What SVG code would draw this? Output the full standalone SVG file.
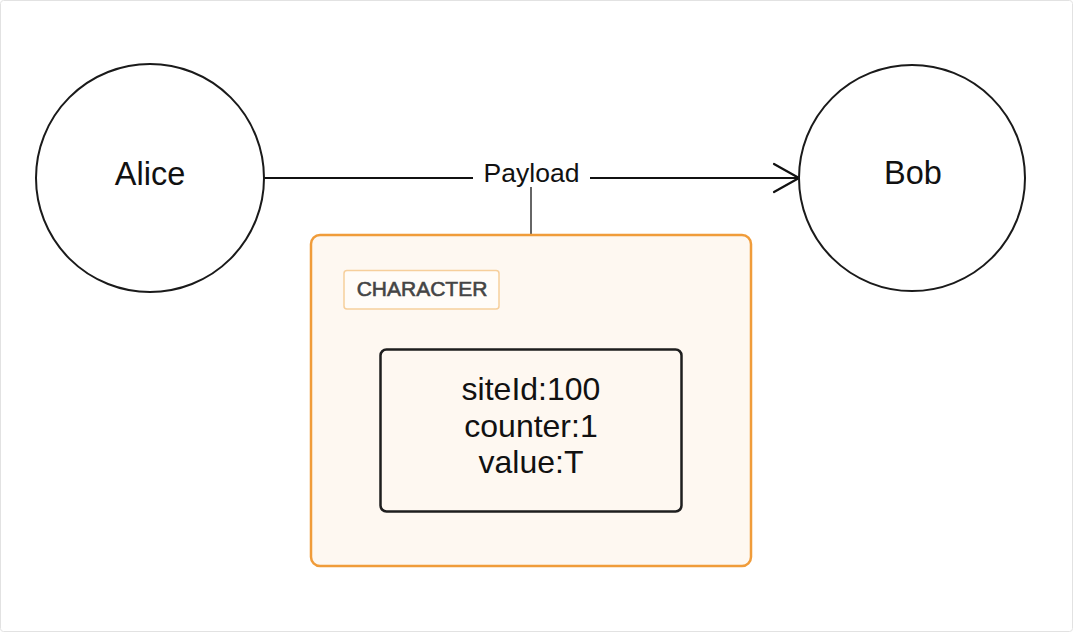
<svg xmlns="http://www.w3.org/2000/svg" width="1073" height="633" viewBox="0 0 1073 633">
<defs>
<style>
.node{fill:#ffffff;stroke:#1a1a1a;stroke-width:2}
.lbl{font-family:"Liberation Sans",Arial,sans-serif;fill:#111111;text-anchor:middle}
.edge{fill:none;stroke:#111111;stroke-width:2}
</style>
<marker id="arrow" viewBox="0 0 30 32" refX="27" refY="16" markerWidth="30" markerHeight="32" markerUnits="userSpaceOnUse" orient="auto">
<path d="M2,2 L27,16 L2,30" fill="none" stroke="#111111" stroke-width="2.2" stroke-linecap="round" stroke-linejoin="round"/>
</marker>
</defs>
<rect x="0.5" y="0.5" width="1072" height="631" rx="3" fill="#ffffff" stroke="#e2e2e2" stroke-width="1"/>
<g id="connectors">
<path class="edge" d="M264,178 L799,178" marker-end="url(#arrow)"/>
<rect x="473" y="160" width="117" height="34" fill="#ffffff"/>
<text class="lbl" x="531.5" y="182" font-size="26.5">Payload</text>
<path d="M531,187 L531,234" fill="none" stroke="#333333" stroke-width="1.5"/>
</g>
<g id="alice">
<circle class="node" cx="150" cy="178" r="114"/>
<text class="lbl" x="150" y="185" font-size="32.5">Alice</text>
</g>
<g id="bob">
<circle class="node" cx="912" cy="178" r="113"/>
<text class="lbl" x="913" y="184" font-size="32.5">Bob</text>
</g>
<g id="character">
<rect x="311" y="235" width="440" height="331" rx="9" fill="#fef8f1" stroke="#f09c3a" stroke-width="2.5"/>
<rect x="344" y="270.5" width="155" height="38.5" rx="3" fill="#fffcf8" stroke="#f6cf9c" stroke-width="1.5"/>
<text x="422" y="296" font-family="'Liberation Sans',Arial,sans-serif" font-size="21" fill="#444444" stroke="#444444" stroke-width="0.6" text-anchor="middle">CHARACTER</text>
</g>
<g id="payload-data">
<rect x="380.5" y="349.5" width="301" height="162" rx="6" fill="#fef8f1" stroke="#1e1e1e" stroke-width="2.5"/>
<text class="lbl" x="531" y="400" font-size="32">siteId:100</text>
<text class="lbl" x="531" y="437" font-size="32">counter:1</text>
<text class="lbl" x="531" y="473" font-size="32">value:T</text>
</g>
</svg>
